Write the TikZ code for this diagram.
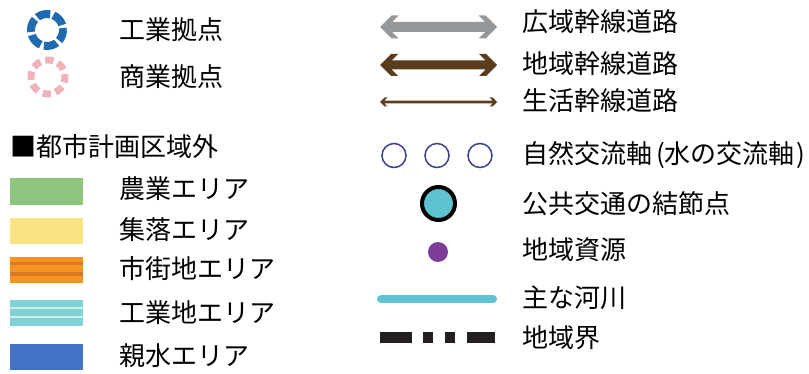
\documentclass[tikz,border=0pt]{standalone}
\usepackage{fontspec}
\setmainfont{Noto Sans CJK JP}
\definecolor{ringblue}{HTML}{1F6BB0}
\definecolor{ringpink}{HTML}{EFB3BC}
\definecolor{agri}{HTML}{8FC47F}
\definecolor{village}{HTML}{FBE384}
\definecolor{town}{HTML}{F7941D}
\definecolor{towndark}{HTML}{D67A28}
\definecolor{indus}{HTML}{80D2D5}
\definecolor{induslight}{HTML}{C9EEEE}
\definecolor{water}{HTML}{4472C4}
\definecolor{roadgray}{HTML}{95989B}
\definecolor{roadbrown}{HTML}{5B3C1C}
\definecolor{axisblue}{HTML}{3B3F8A}
\definecolor{hubfill}{HTML}{5EC2D0}
\definecolor{resource}{HTML}{7D3C98}
\definecolor{river}{HTML}{5FC3D4}
\definecolor{bound}{HTML}{231F20}
\newcommand\dblarw[7]{%
  \fill[#7] (#1,#3) -- ({#1+#5},{#3-#5}) -- ({#1+#5+#6},{#3-#5}) -- ({#1+#6+#4},{#3-#4})
   -- ({#2-#6-#4},{#3-#4}) -- ({#2-#5-#6},{#3-#5}) -- ({#2-#5},{#3-#5}) -- (#2,#3)
   -- ({#2-#5},{#3+#5}) -- ({#2-#5-#6},{#3+#5}) -- ({#2-#6-#4},{#3+#4})
   -- ({#1+#6+#4},{#3+#4}) -- ({#1+#5+#6},{#3+#5}) -- ({#1+#5},{#3+#5}) -- cycle;}
\tikzset{
  lbl/.style={anchor=west,inner sep=0pt,font=\fontsize{26pt}{30pt}\selectfont,text=black},
}
\begin{document}
\begin{tikzpicture}[x=1pt,y=-1pt]
\useasboundingbox (0,0) rectangle (809,374);
% rings
\draw[ringblue,line width=8pt,dash pattern=on 13.5pt off 3.25pt,dash phase=2pt] (47,30) circle[radius=16];
\draw[ringpink,line width=7pt,dash pattern=on 8.5pt off 4.85pt,dash phase=3pt] (48,77) circle[radius=17];
\node[lbl] (t1) at (119,30) {工業拠点};
\node[lbl] (t2) at (119,77) {商業拠点};
\node[lbl] (t3) at (10,147) {■都市計画区域外};
% swatches
\fill[agri] (10,178) rectangle (83,205);
\node[lbl] (t4) at (119,189) {農業エリア};
\fill[village] (10,218) rectangle (83,244);
\node[lbl] (t5) at (119,230) {集落エリア};
\fill[town] (10,257) rectangle (83,283);
\fill[towndark] (10,262.5) rectangle (83,265.5);
\fill[towndark] (10,272) rectangle (83,276);
\node[lbl] (t6) at (119,269) {市街地エリア};
\fill[indus] (10,300) rectangle (83,326);
\fill[induslight] (10,306.5) rectangle (83,308.5);
\fill[induslight] (10,315.5) rectangle (83,317.5);
\node[lbl] (t7) at (119,313) {工業地エリア};
\fill[water] (10,344) rectangle (83,370);
\node[lbl] (t8) at (119,356) {親水エリア};
% roads
\dblarw{380}{497}{27}{5}{11.5}{7}{roadgray}
\node[lbl] (r1) at (522,22) {広域幹線道路};
\dblarw{380}{497}{65}{4.5}{11}{7}{roadbrown}
\node[lbl] (r2) at (522,64) {地域幹線道路};
\dblarw{380}{497}{102}{1.4}{4.5}{2.8}{roadbrown}
\node[lbl] (r3) at (522,101) {生活幹線道路};
% circles
\draw[axisblue,line width=1.5pt] (394,155.5) circle[radius=12];
\draw[axisblue,line width=1.5pt] (437,155.5) circle[radius=12];
\draw[axisblue,line width=1.5pt] (480,155.5) circle[radius=12];
\node[lbl] (r4) at (522,155) {自然交流軸\hspace{4pt}(水の交流軸\hspace{2pt})};
\draw[black,fill=hubfill,line width=4pt] (438.5,203.5) circle[radius=16.5];
\node[lbl] (r5) at (522,204) {公共交通の結節点};
\fill[resource] (438,252) circle[radius=10];
\node[lbl] (r6) at (522,250) {地域資源};
\draw[river,line width=8pt,line cap=round] (381,299) -- (493,299);
\node[lbl] (r7) at (522,298) {主な河川};
\fill[bound] (380,332) rectangle (412,343);
\fill[bound] (423,332) rectangle (433,343);
\fill[bound] (445,332) rectangle (455,343);
\fill[bound] (467,332) rectangle (495,343);
\node[lbl] (r8) at (522,338) {地域界};
\end{tikzpicture}
\end{document}
